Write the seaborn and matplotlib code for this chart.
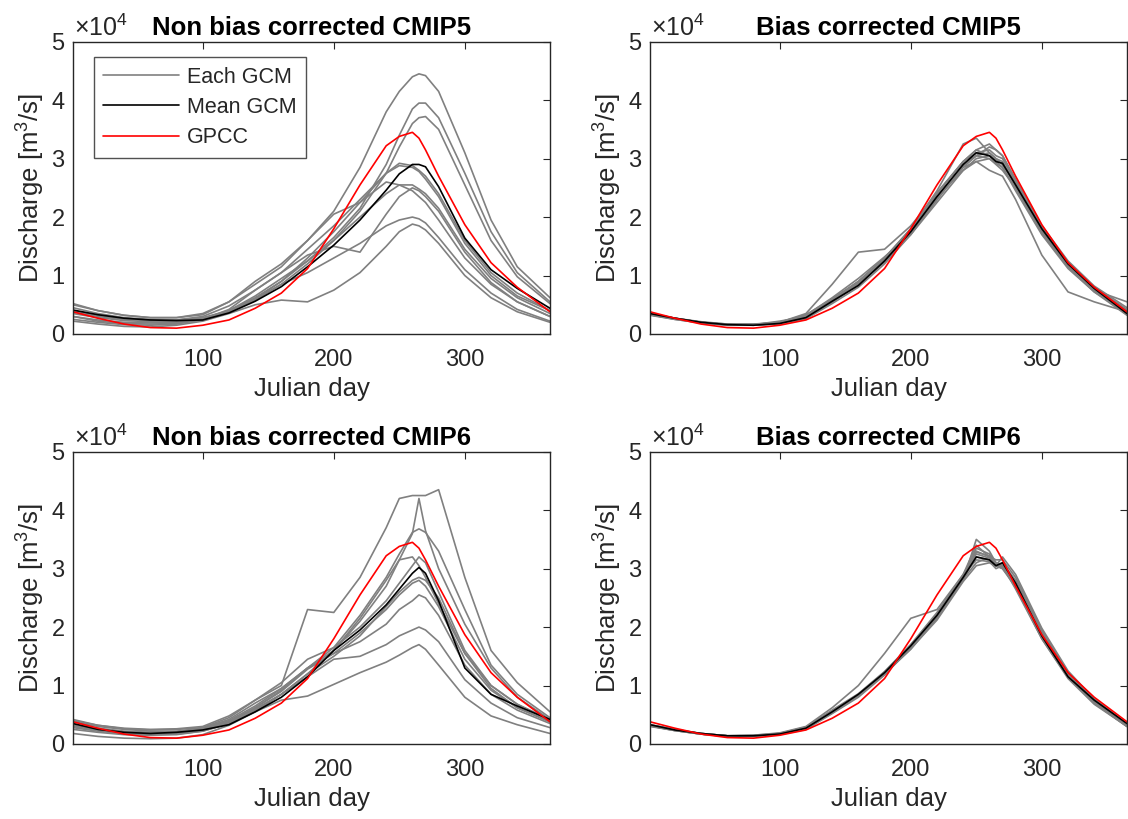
import matplotlib
matplotlib.use("Agg")
import matplotlib.pyplot as plt
import seaborn as sns
from matplotlib.lines import Line2D

# ---------------- data (discharge in units of 1e4 m^3/s) ----------------
days = [1, 20, 40, 60, 80, 100, 120, 140, 160, 180, 200, 220, 240, 250, 260, 265, 270, 280, 300, 320, 340, 365]

gpcc = [0.38, 0.27, 0.17, 0.11, 0.10, 0.15, 0.24, 0.44, 0.70, 1.12, 1.80, 2.55, 3.22, 3.38, 3.45, 3.35, 3.15, 2.70, 1.87, 1.22, 0.80, 0.38]

# Non bias corrected CMIP5
cmip5_raw_mean = [0.41, 0.33, 0.27, 0.24, 0.23, 0.24, 0.36, 0.56, 0.81, 1.15, 1.52, 1.95, 2.46, 2.74, 2.90, 2.90, 2.86, 2.52, 1.64, 1.10, 0.78, 0.44]
cmip5_raw_gcms = [
    [0.52, 0.40, 0.32, 0.28, 0.28, 0.33, 0.55, 0.85, 1.15, 1.60, 2.10, 2.85, 3.80, 4.15, 4.40, 4.45, 4.42, 4.15, 3.10, 1.95, 1.15, 0.62],
    [0.45, 0.35, 0.28, 0.25, 0.24, 0.28, 0.40, 0.62, 0.90, 1.25, 1.65, 2.15, 2.90, 3.40, 3.85, 3.95, 3.95, 3.70, 2.75, 1.75, 1.05, 0.55],
    [0.40, 0.32, 0.26, 0.23, 0.23, 0.27, 0.38, 0.58, 0.85, 1.20, 1.60, 2.10, 2.75, 3.20, 3.60, 3.70, 3.72, 3.50, 2.55, 1.60, 0.98, 0.52],
    [0.35, 0.28, 0.23, 0.21, 0.21, 0.25, 0.38, 0.60, 0.90, 1.30, 1.75, 2.25, 2.75, 2.92, 2.88, 2.80, 2.70, 2.40, 1.60, 1.05, 0.70, 0.40],
    [0.50, 0.40, 0.32, 0.28, 0.28, 0.35, 0.55, 0.90, 1.20, 1.60, 2.05, 2.25, 2.60, 2.55, 2.45, 2.35, 2.25, 1.95, 1.30, 0.85, 0.55, 0.30],
    [0.30, 0.24, 0.20, 0.19, 0.20, 0.25, 0.40, 0.65, 0.95, 1.25, 1.60, 2.00, 2.40, 2.55, 2.55, 2.48, 2.40, 2.15, 1.45, 0.95, 0.62, 0.35],
    [0.25, 0.20, 0.16, 0.15, 0.17, 0.25, 0.42, 0.75, 1.05, 1.35, 1.50, 1.40, 2.05, 2.35, 2.50, 2.45, 2.35, 2.10, 1.40, 0.88, 0.55, 0.30],
    [0.30, 0.22, 0.18, 0.17, 0.18, 0.24, 0.38, 0.60, 0.85, 1.05, 1.30, 1.55, 1.85, 1.95, 2.00, 1.97, 1.90, 1.65, 1.10, 0.70, 0.42, 0.22],
    [0.22, 0.17, 0.13, 0.12, 0.15, 0.22, 0.35, 0.50, 0.58, 0.55, 0.75, 1.05, 1.50, 1.75, 1.88, 1.85, 1.78, 1.55, 1.00, 0.62, 0.38, 0.20],
    [0.38, 0.30, 0.25, 0.23, 0.24, 0.30, 0.48, 0.75, 1.05, 1.45, 1.85, 2.30, 2.75, 2.88, 2.85, 2.78, 2.65, 2.35, 1.55, 1.00, 0.65, 0.40],
]

# Bias corrected CMIP5
cmip5_bc_mean = [0.35, 0.27, 0.20, 0.16, 0.15, 0.18, 0.28, 0.56, 0.83, 1.25, 1.75, 2.35, 2.90, 3.10, 3.05, 2.95, 2.92, 2.55, 1.80, 1.20, 0.78, 0.35]
cmip5_bc_gcms = [
    [0.33, 0.26, 0.20, 0.16, 0.16, 0.20, 0.35, 0.85, 1.40, 1.45, 1.85, 2.40, 2.95, 3.15, 3.05, 2.98, 2.90, 2.55, 1.75, 1.15, 0.75, 0.33],
    [0.32, 0.25, 0.19, 0.16, 0.16, 0.22, 0.30, 0.55, 0.85, 1.25, 1.75, 2.35, 2.85, 2.95, 2.80, 2.75, 2.70, 2.30, 1.35, 0.72, 0.55, 0.38],
    [0.35, 0.27, 0.20, 0.16, 0.15, 0.18, 0.30, 0.60, 0.90, 1.30, 1.80, 2.45, 3.25, 3.35, 3.10, 3.00, 2.90, 2.60, 1.85, 1.20, 0.78, 0.40],
    [0.34, 0.26, 0.20, 0.16, 0.15, 0.19, 0.28, 0.55, 0.85, 1.28, 1.75, 2.40, 2.95, 3.10, 3.15, 3.05, 3.00, 2.60, 1.82, 1.22, 0.80, 0.42],
    [0.33, 0.26, 0.19, 0.15, 0.15, 0.17, 0.26, 0.52, 0.80, 1.20, 1.70, 2.30, 2.90, 3.05, 3.20, 3.15, 3.05, 2.65, 1.85, 1.25, 0.82, 0.45],
    [0.34, 0.27, 0.20, 0.17, 0.17, 0.20, 0.30, 0.58, 0.90, 1.30, 1.80, 2.35, 2.80, 2.95, 3.00, 2.90, 2.80, 2.50, 1.78, 1.18, 0.76, 0.35],
    [0.35, 0.27, 0.21, 0.17, 0.16, 0.19, 0.32, 0.62, 0.95, 1.32, 1.72, 2.30, 2.85, 3.05, 3.10, 3.00, 2.95, 2.55, 1.75, 1.15, 0.75, 0.55],
    [0.34, 0.26, 0.20, 0.16, 0.16, 0.20, 0.33, 0.60, 0.88, 1.25, 1.70, 2.25, 2.80, 3.00, 3.05, 2.95, 2.85, 2.50, 1.72, 1.15, 0.72, 0.32],
    [0.33, 0.25, 0.19, 0.15, 0.15, 0.19, 0.29, 0.55, 0.87, 1.27, 1.78, 2.42, 2.95, 3.15, 3.25, 3.15, 3.05, 2.62, 1.80, 1.20, 0.78, 0.35],
    [0.35, 0.27, 0.20, 0.16, 0.16, 0.20, 0.31, 0.58, 0.86, 1.23, 1.72, 2.30, 2.88, 3.05, 3.00, 2.92, 2.85, 2.45, 1.70, 1.12, 0.72, 0.38],
]

# Non bias corrected CMIP6
cmip6_raw_mean = [0.35, 0.25, 0.20, 0.18, 0.20, 0.24, 0.33, 0.55, 0.80, 1.15, 1.60, 1.95, 2.38, 2.65, 2.92, 3.02, 2.92, 2.45, 1.30, 0.85, 0.65, 0.42]
cmip6_raw_gcms = [
    [0.42, 0.32, 0.26, 0.24, 0.25, 0.28, 0.45, 0.75, 1.00, 2.30, 2.25, 2.85, 3.70, 4.20, 4.25, 4.25, 4.25, 4.35, 2.85, 1.60, 1.05, 0.55],
    [0.30, 0.25, 0.20, 0.18, 0.20, 0.25, 0.38, 0.60, 0.85, 1.20, 1.60, 2.15, 2.80, 3.15, 3.60, 4.20, 3.65, 3.00, 2.05, 1.30, 0.80, 0.42],
    [0.35, 0.27, 0.22, 0.20, 0.21, 0.26, 0.40, 0.65, 0.95, 1.30, 1.65, 2.20, 2.85, 3.25, 3.62, 3.68, 3.62, 3.30, 2.30, 1.35, 0.85, 0.45],
    [0.30, 0.24, 0.19, 0.17, 0.18, 0.24, 0.37, 0.62, 0.92, 1.30, 1.60, 2.10, 2.70, 3.15, 3.20, 3.05, 2.85, 2.40, 1.55, 1.00, 0.68, 0.40],
    [0.28, 0.22, 0.18, 0.16, 0.17, 0.22, 0.35, 0.58, 0.85, 1.20, 1.50, 1.85, 2.35, 2.60, 2.80, 2.85, 2.80, 2.50, 1.55, 0.95, 0.62, 0.38],
    [0.38, 0.30, 0.25, 0.22, 0.22, 0.27, 0.42, 0.70, 0.95, 1.30, 1.55, 1.75, 2.05, 2.30, 2.45, 2.55, 2.50, 2.20, 1.35, 0.85, 0.58, 0.35],
    [0.25, 0.20, 0.16, 0.15, 0.16, 0.22, 0.35, 0.55, 0.85, 1.15, 1.45, 1.50, 1.70, 1.85, 1.95, 2.00, 1.95, 1.75, 1.10, 0.70, 0.45, 0.28],
    [0.18, 0.13, 0.10, 0.09, 0.10, 0.16, 0.32, 0.55, 0.75, 0.82, 1.02, 1.22, 1.40, 1.52, 1.65, 1.70, 1.62, 1.35, 0.80, 0.48, 0.33, 0.18],
    [0.40, 0.32, 0.27, 0.25, 0.26, 0.30, 0.48, 0.75, 1.05, 1.45, 1.65, 2.00, 2.45, 2.75, 3.05, 3.20, 3.10, 2.60, 1.60, 1.00, 0.68, 0.42],
    [0.32, 0.25, 0.20, 0.18, 0.19, 0.24, 0.38, 0.62, 0.90, 1.28, 1.55, 1.90, 2.30, 2.55, 2.75, 2.80, 2.70, 2.35, 1.45, 0.92, 0.62, 0.38],
]

# Bias corrected CMIP6
cmip6_bc_mean = [0.33, 0.24, 0.18, 0.14, 0.14, 0.17, 0.27, 0.55, 0.85, 1.22, 1.68, 2.20, 2.85, 3.20, 3.15, 3.05, 3.10, 2.75, 1.85, 1.15, 0.75, 0.35]
cmip6_bc_gcms = [
    [0.30, 0.23, 0.17, 0.14, 0.15, 0.19, 0.30, 0.62, 1.00, 1.55, 2.15, 2.30, 2.90, 3.30, 3.20, 3.10, 3.05, 2.70, 1.85, 1.15, 0.70, 0.30],
    [0.32, 0.24, 0.18, 0.14, 0.14, 0.17, 0.26, 0.55, 0.82, 1.20, 1.62, 2.15, 2.85, 3.35, 3.25, 3.10, 3.05, 2.70, 1.82, 1.15, 0.70, 0.30],
    [0.31, 0.23, 0.17, 0.13, 0.13, 0.16, 0.25, 0.52, 0.80, 1.18, 1.65, 2.20, 2.80, 3.50, 3.30, 3.10, 3.05, 2.65, 1.80, 1.12, 0.68, 0.30],
    [0.33, 0.25, 0.18, 0.14, 0.14, 0.18, 0.28, 0.58, 0.86, 1.24, 1.70, 2.22, 2.88, 3.15, 3.12, 3.00, 3.05, 2.78, 1.90, 1.20, 0.72, 0.32],
    [0.32, 0.24, 0.17, 0.13, 0.14, 0.17, 0.27, 0.56, 0.84, 1.22, 1.66, 2.18, 2.82, 3.10, 3.20, 3.15, 3.15, 2.85, 1.95, 1.22, 0.76, 0.34],
    [0.31, 0.23, 0.17, 0.14, 0.14, 0.18, 0.29, 0.57, 0.83, 1.20, 1.63, 2.12, 2.78, 3.05, 3.10, 3.05, 3.00, 2.72, 1.88, 1.18, 0.72, 0.32],
    [0.33, 0.25, 0.18, 0.14, 0.15, 0.18, 0.28, 0.55, 0.85, 1.23, 1.70, 2.25, 2.90, 3.40, 3.20, 3.05, 3.00, 2.68, 1.80, 1.14, 0.70, 0.31],
    [0.32, 0.24, 0.18, 0.14, 0.14, 0.17, 0.26, 0.53, 0.82, 1.19, 1.64, 2.16, 2.84, 3.20, 3.15, 3.05, 3.10, 2.80, 1.92, 1.20, 0.74, 0.33],
    [0.31, 0.24, 0.17, 0.13, 0.14, 0.17, 0.27, 0.54, 0.83, 1.21, 1.67, 2.20, 2.86, 3.25, 3.18, 3.05, 3.20, 2.90, 1.98, 1.25, 0.77, 0.35],
    [0.32, 0.24, 0.17, 0.14, 0.14, 0.17, 0.27, 0.55, 0.84, 1.20, 1.65, 2.18, 2.80, 3.28, 3.22, 3.08, 3.02, 2.72, 1.86, 1.17, 0.72, 0.31],
]

titles = ["Non bias corrected CMIP5", "Bias corrected CMIP5",
          "Non bias corrected CMIP6", "Bias corrected CMIP6"]
xticks = [100, 200, 300]
yticks = [0, 1, 2, 3, 4, 5]
legend_labels = ["Each GCM", "Mean GCM", "GPCC"]

# ---------------- styling ----------------
sns.set_style("white")
plt.rcParams["font.family"] = ["Liberation Sans", "DejaVu Sans"]
plt.rcParams["mathtext.fontset"] = "custom"
plt.rcParams["mathtext.rm"] = "Liberation Sans"
plt.rcParams["mathtext.it"] = "Liberation Sans"
plt.rcParams["mathtext.bf"] = "Liberation Sans:bold"
TXT = "#262626"
GRAY = "#808080"

fig = plt.figure(figsize=(11.28, 8.19), dpi=100)
w, h = 477 / 1128, 292.3 / 819
positions = [
    [73 / 1128, 1 - 334 / 819, w, h],
    [650 / 1128, 1 - 334 / 819, w, h],
    [73 / 1128, 1 - 744 / 819, w, h],
    [650 / 1128, 1 - 744 / 819, w, h],
]
panels = [
    (cmip5_raw_gcms, cmip5_raw_mean),
    (cmip5_bc_gcms, cmip5_bc_mean),
    (cmip6_raw_gcms, cmip6_raw_mean),
    (cmip6_bc_gcms, cmip6_bc_mean),
]

for k, (pos, (gcms, mean), title) in enumerate(zip(positions, panels, titles)):
    ax = fig.add_axes(pos)
    for g in gcms:
        sns.lineplot(x=days, y=g, ax=ax, color=GRAY, linewidth=1.2, legend=False)
    sns.lineplot(x=days, y=mean, ax=ax, color="black", linewidth=1.2, legend=False)
    sns.lineplot(x=days, y=gpcc, ax=ax, color="#ff0000", linewidth=1.2, legend=False)

    ax.set_xlim(1, 365)
    ax.set_ylim(0, 5)
    ax.set_xticks(xticks)
    ax.set_yticks(yticks)
    ax.tick_params(direction="in", length=5, width=0.8, colors=TXT,
                   labelsize=17, top=True, right=True)
    ax.tick_params(axis="x", pad=11)
    ax.tick_params(axis="y", pad=6)
    for sp in ax.spines.values():
        sp.set_visible(True)
        sp.set_color(TXT)
        sp.set_linewidth(1.0)
    ax.set_xlabel("Julian day", fontsize=18.5, color=TXT, labelpad=4)
    ax.set_ylabel("Discharge [m$^3$/s]", fontsize=18.5, color=TXT, labelpad=3)
    ax.set_title(title, fontsize=18.5, fontweight="bold", color="black", pad=5)
    ax.text(0.003, 1.004, "\u00d710$^4$", transform=ax.transAxes, fontsize=18,
            color=TXT, ha="left", va="bottom")

    if k == 0:
        handles = [Line2D([], [], color=GRAY, lw=1.2),
                   Line2D([], [], color="black", lw=1.2),
                   Line2D([], [], color="#ff0000", lw=1.2)]
        leg = ax.legend(handles, legend_labels, loc="upper left",
                        bbox_to_anchor=(0.043, 0.948), fontsize=15.5,
                        frameon=True, fancybox=False, edgecolor=TXT,
                        handlelength=3.5, handletextpad=0.4,
                        borderpad=0.45, labelspacing=0.43, borderaxespad=0)
        leg.get_frame().set_linewidth(1.0)
        for t in leg.get_texts():
            t.set_color(TXT)

fig.savefig("out.png", dpi=100, facecolor="white")
